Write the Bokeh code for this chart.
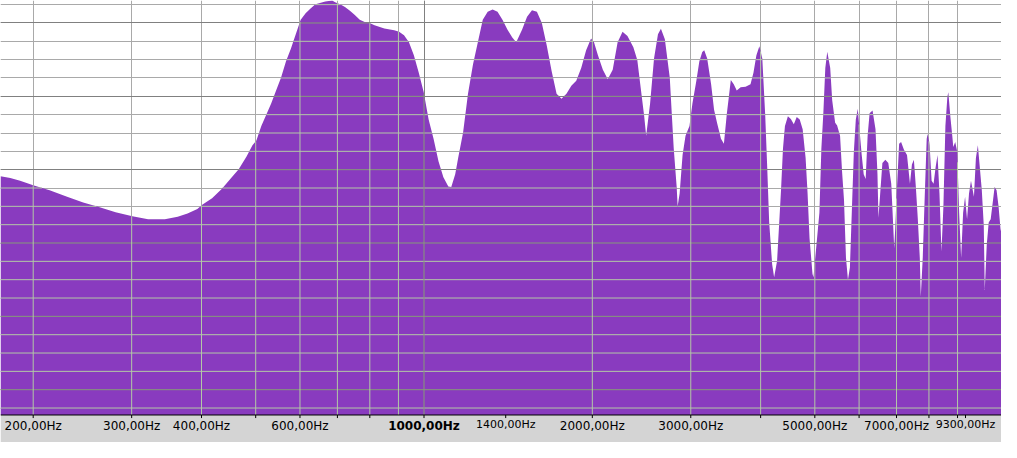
import numpy as np
from bokeh.plotting import figure
from bokeh.models import FixedTicker, Grid, Span
from bokeh.core.properties import value
from bokeh.embed import file_html
from bokeh.resources import INLINE

# ---- spectrum data (frequency in Hz, level in dB) ----
freq_hz = [
    174.8, 182.0, 189.5, 200.6, 214.0, 229.3, 245.7, 262.1, 280.8, 300.9,
    321.0, 343.9, 362.6, 377.6, 393.2, 401.2, 417.8, 435.1, 453.1, 466.2,
    481.5, 493.4, 501.4, 511.7, 522.2, 532.9, 543.8, 554.9, 566.3, 577.9,
    589.7, 601.8, 614.1, 626.7, 639.5, 665.9, 685.1, 693.5, 707.7, 722.2,
    737.0, 752.1, 767.5, 783.2, 799.2, 815.6, 849.3, 884.4, 902.5, 921.0,
    939.9, 959.1, 978.7, 998.8, 1019.2, 1040.1, 1061.4, 1083.1, 1105.3, 1118.8,
    1137.1, 1151.0, 1174.6, 1198.6, 1223.2, 1248.2, 1273.8, 1299.9, 1326.5, 1353.6,
    1381.4, 1409.6, 1438.5, 1462.0, 1498.0, 1528.7, 1560.0, 1591.9, 1624.5, 1657.8,
    1691.7, 1726.3, 1761.7, 1797.8, 1834.6, 1872.1, 1910.5, 1949.6, 1989.5, 2013.8,
    2046.8, 2088.7, 2131.4, 2175.1, 2219.6, 2265.0, 2311.4, 2368.3, 2407.0, 2436.5,
    2476.3, 2496.5, 2537.3, 2578.7, 2620.9, 2653.0, 2696.3, 2751.5, 2773.9, 2796.5,
    2830.7, 2842.2, 2865.4, 2900.4, 2935.9, 2983.9, 3020.4, 3069.8, 3107.3, 3145.4,
    3171.0, 3209.8, 3262.2, 3302.1, 3342.5, 3397.2, 3438.7, 3480.8, 3509.1, 3537.7,
    3581.0, 3624.8, 3684.1, 3759.5, 3836.5, 3883.4, 3930.9, 3979.0, 4027.7, 4077.0,
    4110.2, 4143.6, 4194.3, 4228.5, 4280.2, 4315.1, 4350.2, 4385.6, 4421.3, 4475.4,
    4530.1, 4585.6, 4641.7, 4698.4, 4755.9, 4814.1, 4853.3, 4892.8, 4952.6, 4972.8,
    5033.6, 5095.2, 5136.7, 5178.5, 5220.7, 5263.1, 5327.5, 5370.9, 5436.6, 5480.9,
    5547.9, 5593.1, 5638.6, 5684.5, 5730.8, 5777.4, 5824.5, 5871.9, 5919.7, 5967.9,
    6016.5, 6065.4, 6114.8, 6164.6, 6214.8, 6265.4, 6342.0, 6419.6, 6471.9, 6498.2,
    6551.1, 6604.4, 6685.2, 6767.0, 6849.8, 6905.5, 6933.6, 6961.8, 7018.5, 7075.6,
    7133.2, 7220.4, 7308.8, 7398.2, 7458.4, 7519.2, 7580.3, 7642.0, 7704.3, 7735.5,
    7798.5, 7862.0, 7926.0, 7958.2, 8023.0, 8088.3, 8154.1, 8220.5, 8287.5, 8354.9,
    8422.9, 8491.5, 8560.7, 8630.3, 8665.4, 8736.0, 8807.0, 8842.8, 8914.8, 8987.4,
    9060.5, 9134.3, 9208.6, 9283.6, 9359.2, 9435.4, 9512.2, 9628.5, 9706.9, 9786.0,
    9865.6, 9945.9, 10026.9, 10067.6, 10149.6, 10232.2, 10315.5, 10399.5, 10484.2, 10569.6,
    10655.5, 10742.3, 10786.0,
]
level_db = [
    -37.06, -37.37, -37.80, -38.59, -39.38, -40.37, -41.37, -42.11, -42.95, -43.64,
    -44.12, -44.12, -43.69, -43.17, -42.43, -41.75, -40.69, -39.11, -37.26, -35.95,
    -33.85, -32.01, -31.22, -28.85, -27.00, -25.17, -23.05, -20.95, -18.32, -16.22,
    -13.85, -11.48, -10.42, -9.63, -8.95, -8.48, -8.30, -8.59, -8.95, -9.38,
    -10.01, -10.69, -11.48, -11.84, -12.00, -12.38, -12.90, -13.17, -13.42, -14.00,
    -15.16, -17.27, -20.16, -23.32, -27.79, -30.95, -34.64, -37.26, -38.75, -38.84,
    -36.74, -34.10, -29.90, -23.59, -18.85, -15.16, -11.48, -10.17, -9.79, -10.17,
    -11.48, -13.06, -14.37, -15.16, -13.06, -10.96, -9.90, -10.17, -12.00, -15.69,
    -19.89, -23.59, -24.38, -23.59, -22.26, -21.47, -19.37, -16.48, -14.53, -15.16,
    -17.27, -19.64, -21.22, -19.64, -15.16, -13.42, -14.12, -15.95, -18.06, -22.01,
    -27.27, -30.43, -25.17, -17.79, -13.85, -12.95, -14.64, -20.95, -26.75, -32.48,
    -38.79, -42.00, -39.90, -33.58, -30.43, -28.85, -25.17, -21.47, -18.32, -16.74,
    -16.48, -17.79, -22.01, -26.21, -28.33, -30.95, -31.74, -26.75, -24.11, -21.32,
    -22.01, -23.05, -22.53, -22.42, -22.01, -20.16, -17.27, -15.79, -17.79, -27.27,
    -35.68, -44.64, -51.47, -53.59, -50.95, -45.16, -39.38, -32.53, -28.85, -27.27,
    -27.69, -28.58, -27.38, -27.79, -29.37, -34.10, -39.90, -47.27, -53.05, -53.59,
    -48.32, -43.06, -32.53, -26.75, -19.37, -16.69, -19.37, -24.63, -28.33, -28.77,
    -30.43, -36.22, -40.96, -50.43, -54.00, -52.01, -42.54, -33.06, -27.79, -26.05,
    -29.90, -33.58, -36.74, -37.53, -30.43, -26.75, -26.32, -29.37, -36.74, -43.85,
    -39.38, -34.89, -34.37, -34.89, -38.32, -45.16, -48.85, -45.69, -38.32, -31.74,
    -31.48, -32.79, -33.58, -38.32, -35.16, -34.37, -38.84, -44.12, -50.43, -56.75,
    -50.43, -40.42, -30.95, -30.16, -32.01, -37.80, -38.32, -35.68, -33.58, -39.90,
    -49.37, -42.00, -28.85, -24.11, -23.32, -27.27, -30.43, -32.27, -31.48, -33.06,
    -43.06, -50.43, -43.06, -40.42, -44.12, -39.90, -37.80, -40.42, -34.10, -32.01,
    -35.68, -39.38, -45.16, -55.69, -48.32, -44.64, -44.12, -41.48, -38.84, -39.38,
    -42.00, -45.69, -46.50,
]

# ---- axis / grid definitions ----
tick_freqs = [200, 300, 400, 500, 600, 700, 800, 1000, 1400, 2000, 3000, 4000,
              5000, 6000, 7000, 8000, 9000, 9300]
plain_label_freqs = [200, 300, 400, 600, 2000, 3000, 5000, 7000]
plain_label_texts = ["200,00Hz", "300,00Hz", "400,00Hz", "600,00Hz",
                     "2000,00Hz", "3000,00Hz", "5000,00Hz", "7000,00Hz"]
bold_label_freqs = [1000]
bold_label_texts = ["1000,00Hz"]
small_label_freqs = [1400, 9300]
small_label_texts = ["1400,00Hz", "9300,00Hz"]
grid_freqs = [200, 300, 400, 500, 600, 700, 800, 900, 1000, 2000, 3000, 4000,
              5000, 6000, 7000, 8000, 9000]
major_grid_freqs = [1000]
grid_levels = [-9, -12, -15, -18, -21, -24, -27, -30, -33, -36, -39, -42, -45,
               -48, -51, -54, -57, -60, -63, -66, -69, -72, -75]
major_grid_levels = [-12, -24, -36, -48, -60, -72]

X_RANGE = (174.8, 10786.0)
Y_RANGE = (-80.64, -8.32)
AXIS_LEVEL = -76.14      # level at which the frequency axis line sits
TICK_LEN = 0.5           # tick length in dB units
LABEL_LEVEL = -77.9
SMALL_LABEL_LEVEL = -77.75

FILL = "#893bbf"
AXIS_BG = "#d4d4d4"
GRID_LIGHT = "#a9a9a9"
GRID_DARK = "#808080"
GRID_LIGHT_IN = "#b3c8a6"
GRID_DARK_IN = "#869a78"

p = figure(width=1001, height=442, x_axis_type="log", x_range=X_RANGE, y_range=Y_RANGE,
           output_backend="svg", toolbar_location=None, min_border=0)
p.outline_line_color = None
p.background_fill_color = "white"
p.border_fill_color = AXIS_BG
p.xaxis.visible = False
p.yaxis.visible = False

# base grid (over white)
p.xgrid.ticker = FixedTicker(ticks=grid_freqs)
p.ygrid.ticker = FixedTicker(ticks=grid_levels)
p.xgrid.grid_line_color = GRID_LIGHT
p.ygrid.grid_line_color = GRID_LIGHT
p.add_layout(Grid(dimension=0, ticker=FixedTicker(ticks=major_grid_freqs), grid_line_color=GRID_DARK))
p.add_layout(Grid(dimension=1, ticker=FixedTicker(ticks=major_grid_levels), grid_line_color=GRID_DARK))

# spectrum fill
p.varea(x=freq_hz, y1=[AXIS_LEVEL] * len(freq_hz), y2=level_db, fill_color=FILL)

# grid lines redrawn inside the filled area
lx = np.log10(np.array(freq_hz))
ly = np.array(level_db)

def runs_above(L):
    segs = []
    above = ly > L
    start = lx[0] if above[0] else None
    for i in range(len(lx) - 1):
        if above[i] != above[i + 1]:
            t = (L - ly[i]) / (ly[i + 1] - ly[i])
            xc = lx[i] + t * (lx[i + 1] - lx[i])
            if above[i + 1]:
                start = xc
            else:
                segs.append((start, xc))
    if above[-1]:
        segs.append((start, lx[-1]))
    return segs

for lev in grid_levels:
    col = GRID_DARK_IN if lev in major_grid_levels else GRID_LIGHT_IN
    segs = runs_above(lev)
    if segs:
        p.segment(x0=[10 ** a for a, b in segs], x1=[10 ** b for a, b in segs],
                  y0=[lev] * len(segs), y1=[lev] * len(segs), line_color=col, line_width=1)

vy = [float(np.interp(np.log10(f), lx, ly)) for f in grid_freqs]
vc = [GRID_DARK_IN if f in major_grid_freqs else GRID_LIGHT_IN for f in grid_freqs]
p.segment(x0=grid_freqs, x1=grid_freqs, y0=[AXIS_LEVEL] * len(grid_freqs), y1=vy,
          line_color=vc, line_width=1)

# axis band, axis line, ticks and labels
p.quad(left=[X_RANGE[0]], right=[X_RANGE[1]], bottom=[Y_RANGE[0]], top=[AXIS_LEVEL],
       fill_color=AXIS_BG, line_color=None)
p.add_layout(Span(location=AXIS_LEVEL, dimension="width", line_color="black", line_width=1))
p.segment(x0=tick_freqs, x1=tick_freqs, y0=[AXIS_LEVEL] * len(tick_freqs),
          y1=[AXIS_LEVEL - TICK_LEN] * len(tick_freqs), line_color="black", line_width=1)

p.text(x=plain_label_freqs, y=[LABEL_LEVEL] * len(plain_label_freqs), text=plain_label_texts,
       text_align="center", text_baseline="middle", text_font=value("DejaVu Sans"),
       text_font_size="12px", text_color="black")
p.text(x=bold_label_freqs, y=[LABEL_LEVEL] * len(bold_label_freqs), text=bold_label_texts,
       text_align="center", text_baseline="middle", text_font=value("DejaVu Sans"),
       text_font_size="12px", text_font_style="bold", text_color="black")
p.text(x=small_label_freqs, y=[SMALL_LABEL_LEVEL] * len(small_label_freqs), text=small_label_texts,
       text_align="center", text_baseline="middle", text_font=value("DejaVu Sans"),
       text_font_size="11px", text_color="black")

open("out.html", "w").write(file_html(p, INLINE))
